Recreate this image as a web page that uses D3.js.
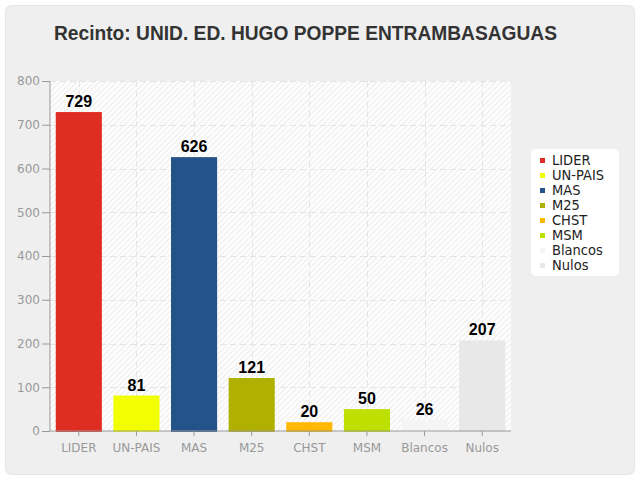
<!DOCTYPE html>
<html><head><meta charset="utf-8">
<script src="https://cdn.jsdelivr.net/npm/d3@7"></script>
<style>body{margin:0;background:#fff;} svg{display:block;font-family:"Liberation Sans",Arial,sans-serif;}
.ax text{font-family:"DejaVu Sans",sans-serif;}
.lg text{font-family:"DejaVu Sans Condensed","DejaVu Sans",sans-serif;}
.val,.ttl{font-family:"Liberation Sans",Arial,sans-serif;}
</style>
</head><body>
<script>
const title = "Recinto: UNID. ED. HUGO POPPE ENTRAMBASAGUAS";
const categories = ["LIDER","UN-PAIS","MAS","M25","CHST","MSM","Blancos","Nulos"];
const values = [729,81,626,121,20,50,26,207];
const colors = ["#e02d24","#f2ff00","#245389","#b0b000","#ffb700","#bde000","#f5f5f5","#e8e8e8"];
const yTicks = [0,100,200,300,400,500,600,700,800];

const W=640,H=480;
const svg=d3.select("body").append("svg").attr("width",W).attr("height",H);
const defs=svg.append("defs");
const pat=defs.append("pattern").attr("id","hatch").attr("patternUnits","userSpaceOnUse")
  .attr("width",4).attr("height",4).attr("patternTransform","rotate(45)");
pat.append("rect").attr("width",4).attr("height",4).attr("fill","#fdfdfd");
pat.append("line").attr("x1",0.5).attr("y1",0).attr("x2",0.5).attr("y2",4).attr("stroke","#ededed").attr("stroke-width",1);

svg.append("rect").attr("x",5.5).attr("y",5.5).attr("width",629).attr("height",469).attr("rx",6)
  .attr("fill","#efefef").attr("stroke","#e4e4e4");

svg.append("text").attr("class","ttl").attr("x",54).attr("y",40).attr("font-size",19.5).attr("font-weight","bold")
  .attr("textLength",503).attr("lengthAdjust","spacingAndGlyphs")
  .attr("fill","#333").text(title);

const m={l:50,r:511,t:81,b:431};
const x=d3.scaleBand().domain(categories).range([m.l,m.r]).paddingInner(0.2).paddingOuter(0.1);
const y=d3.scaleLinear().domain([0,800]).range([m.b,m.t]);

svg.append("rect").attr("x",m.l).attr("y",m.t).attr("width",m.r-m.l).attr("height",m.b-m.t).attr("fill","url(#hatch)");

// grid
svg.append("g").selectAll("line").data(yTicks.slice(1)).join("line")
  .attr("x1",m.l).attr("x2",m.r).attr("y1",d=>Math.round(y(d))+0.5).attr("y2",d=>Math.round(y(d))+0.5)
  .attr("stroke","#e4e4e4").attr("stroke-dasharray","6,4");
svg.append("g").selectAll("line").data(categories).join("line")
  .attr("y1",m.t).attr("y2",m.b).attr("x1",d=>Math.round(x(d)+x.bandwidth()/2)+0.5).attr("x2",d=>Math.round(x(d)+x.bandwidth()/2)+0.5)
  .attr("stroke","#e4e4e4").attr("stroke-dasharray","6,4");

// bars
svg.append("g").selectAll("rect").data(values).join("rect")
  .attr("x",(d,i)=>x(categories[i])).attr("width",x.bandwidth())
  .attr("y",d=>y(d)).attr("height",d=>y(0)-y(d)+1).attr("fill",(d,i)=>colors[i]);

svg.append("g").selectAll("text").data(values).join("text").attr("class","val")
  .attr("x",(d,i)=>x(categories[i])+x.bandwidth()/2).attr("y",d=>y(d)-5)
  .attr("text-anchor","middle").attr("font-size",16).attr("font-weight","bold").attr("fill","#000")
  .text(d=>d);

// axes
const ya=svg.append("g").attr("class","ax").attr("transform",`translate(${m.l},0)`)
  .call(d3.axisLeft(y).tickValues(yTicks).tickSize(8).tickPadding(2).tickSizeOuter(0));
const xa=svg.append("g").attr("class","ax").attr("transform",`translate(0,${m.b})`)
  .call(d3.axisBottom(x).tickSize(5).tickSizeOuter(0));
[ya,xa].forEach(g=>{
  g.select(".domain").attr("stroke","#999");
  g.selectAll(".tick line").attr("stroke","#999");
  g.selectAll("text").attr("fill","#999").attr("font-size",12);
});
xa.selectAll("text").attr("dy","1.1em");
ya.select(".domain").attr("d",`M0,${m.t}V${m.b}`);
xa.select(".domain").attr("d",`M${m.l},0H${m.r}`);

// legend
const lg=svg.append("g").attr("class","lg");
lg.append("rect").attr("x",531).attr("y",149).attr("width",88).attr("height",127).attr("rx",5).attr("fill","#fff");
const rows=lg.selectAll("g").data(categories).join("g")
  .attr("transform",(d,i)=>`translate(540,${165+i*15})`);
rows.append("rect").attr("x",0).attr("y",-7).attr("width",5).attr("height",5).attr("fill",(d,i)=>colors[i]);
rows.append("text").attr("x",12).attr("y",0).attr("font-size",14.5).attr("fill","#222").text(d=>d);
</script>
</body></html>
